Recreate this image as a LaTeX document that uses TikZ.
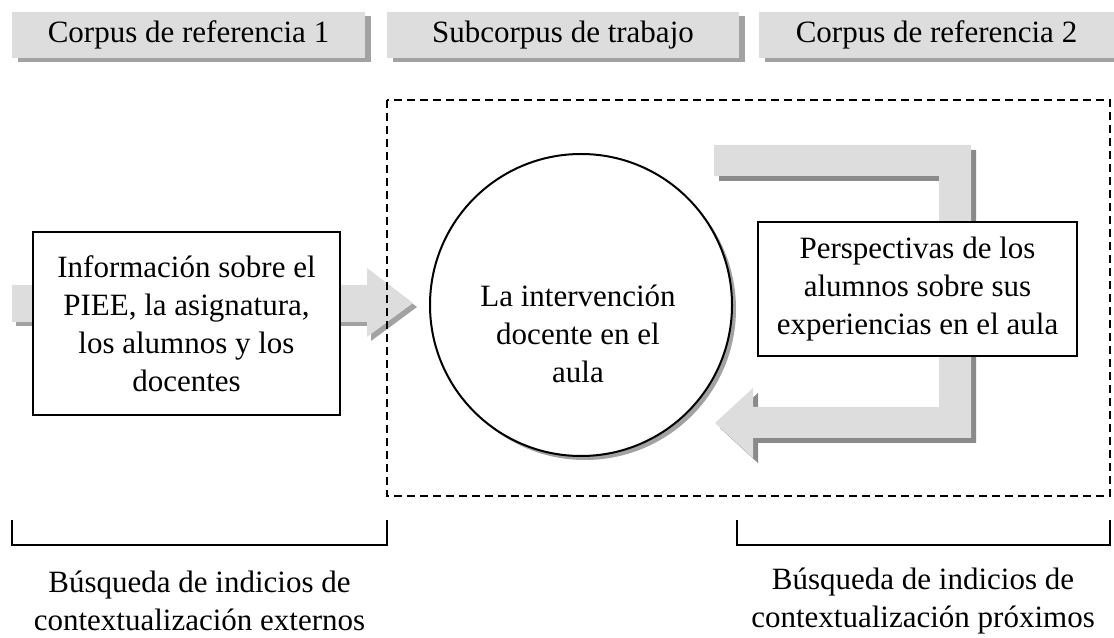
\documentclass[tikz,border=0pt]{standalone}
\usepackage{fontspec}
\setmainfont{Liberation Serif}
\usetikzlibrary{shadows}

\definecolor{lightfill}{HTML}{DDDDDD}
\definecolor{darkshade}{HTML}{8A8A8A}
\definecolor{hatchgray}{HTML}{A2A2A2}
\newcommand{\pxu}{0.4pt}

\tikzset{
  txt/.style={align=center, inner sep=0pt, font=\fontsize{12.4}{15.2}\selectfont},
  hdr/.style={txt, fill=lightfill, minimum height=46*\pxu,
    drop shadow={shadow xshift=2.4pt, shadow yshift=-1.6pt, fill=hatchgray, opacity=1}},
  infobox/.style={txt, draw, line width=1pt, fill=white},
  bandshade/.style={drop shadow={shadow xshift=1.6pt, shadow yshift=-1.6pt, fill=hatchgray, opacity=1}},
  bandsolid/.style={drop shadow={shadow xshift=2pt, shadow yshift=-2pt, fill=darkshade, opacity=1}},
  zone/.style={line width=0.6pt, dash pattern=on 3.2pt off 2pt},
  brack/.style={line width=0.5pt}
}

\begin{document}
\begin{tikzpicture}[x=\pxu, y=-\pxu]
\useasboundingbox (0,0) rectangle (1114,638);

% block arrows
\fill[lightfill, bandshade] (12,285) -- (367,285) -- (367,268) -- (413,303)
  -- (367,337) -- (367,322) -- (12,322) -- cycle;
\fill[lightfill, bandsolid] (714,145) -- (971,145) -- (971,438) -- (753,438)
  -- (753,458) -- (715,423) -- (753,388) -- (753,407) -- (939,407)
  -- (939,176) -- (714,176) -- cycle;

% boxes
\node[circle, draw, line width=0.8pt, fill=white, minimum size=302*\pxu,
  drop shadow={shadow xshift=1.6pt, shadow yshift=-1.6pt, fill=hatchgray, opacity=1}]
  (aula) at (581,305) {};
\node[txt] (aulatxt) at (578,334) {La intervención\\docente en el\\aula};

\node[infobox, minimum width=307*\pxu, minimum height=183*\pxu] (info) at (186.5,323.5)
  {Información sobre el\\PIEE, la asignatura,\\los alumnos y los\\docentes};
\node[infobox, minimum width=319*\pxu, minimum height=134*\pxu] (persp) at (917.5,289)
  {Perspectivas de los\\alumnos sobre sus\\experiencias en el aula};

\draw[zone] (387,100) rectangle (1110,496);

% headers
\node[hdr, minimum width=353*\pxu] (hdrA) at (188.5,35) {Corpus de referencia 1};
\node[hdr, minimum width=352*\pxu] (hdrB) at (563,35) {Subcorpus de trabajo};
\node[hdr, minimum width=355*\pxu] (hdrC) at (936.5,35) {Corpus de referencia 2};

% brackets
\draw[brack] (12,520) -- (12,545) -- (387,545) -- (387,520);
\draw[brack] (737,520) -- (737,545) -- (1110,545) -- (1110,520);
\node[txt] (extA) at (199.5,601) {Búsqueda de indicios de\\contextualización externos};
\node[txt] (extB) at (923,601) {Búsqueda de indicios de\\contextualización próximos};
\end{tikzpicture}
\end{document}
